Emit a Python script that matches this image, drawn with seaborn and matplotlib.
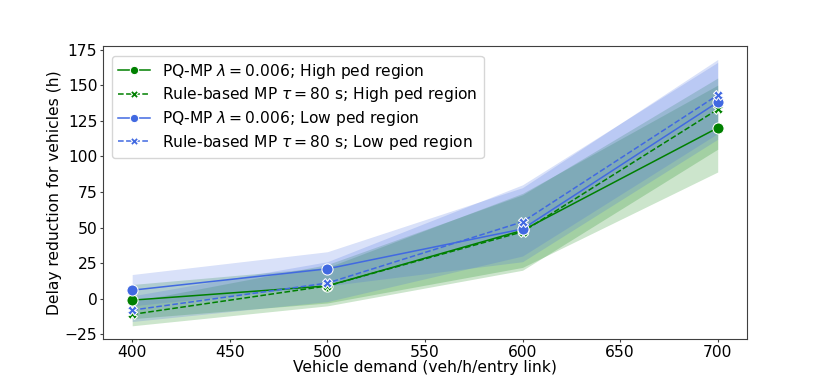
import matplotlib
matplotlib.use("Agg")
import matplotlib.pyplot as plt
import seaborn as sns
import pandas as pd

demand = [400, 500, 600, 700]

# mean delay reduction (h) and band bounds per series
pq_high = [-1, 9, 48, 120]
pq_high_lo = [-14, -3, 22, 89]
pq_high_hi = [10, 22, 74, 150]

rule_high = [-11, 9, 47, 133]
rule_high_lo = [-19, -5, 20, 105]
rule_high_hi = [-2, 24, 73, 155]

pq_low = [6, 21, 49, 138]
pq_low_lo = [-5, 9, 26, 112]
pq_low_hi = [17, 33, 78, 168]

rule_low = [-8, 11, 54, 143]
rule_low_lo = [-16, -2, 30, 116]
rule_low_hi = [2, 26, 80, 166]

labels = [
    r"PQ-MP $\lambda=0.006$; High ped region",
    r"Rule-based MP $\tau=80$ s; High ped region",
    r"PQ-MP $\lambda=0.006$; Low ped region",
    r"Rule-based MP $\tau=80$ s; Low ped region",
]

series = [
    (pq_high, pq_high_lo, pq_high_hi, "green", "-", "o", 8),
    (rule_high, rule_high_lo, rule_high_hi, "green", "--", "X", 7),
    (pq_low, pq_low_lo, pq_low_hi, "royalblue", "-", "o", 8),
    (rule_low, rule_low_lo, rule_low_hi, "royalblue", "--", "X", 7),
]

plt.rcParams["font.size"] = 11.2
plt.rcParams["axes.edgecolor"] = "0.25"
fig, ax = plt.subplots(figsize=(8.3, 3.88), dpi=100)
fig.subplots_adjust(left=0.124, right=0.9, top=0.881, bottom=0.126)

for (y, lo, hi, col, ls, mk, ms), lab in zip(series, labels):
    df = pd.DataFrame({"demand": demand, "delay": y})
    sns.lineplot(data=df, x="demand", y="delay", color=col, linestyle=ls,
                 marker=mk, markersize=ms, linewidth=1.1, label=lab, ax=ax)
    ax.fill_between(demand, lo, hi, color=col, alpha=0.2, linewidth=0)

ax.tick_params(length=2.5, pad=1.5, color="0.25")
ax.set_xlabel("Vehicle demand (veh/h/entry link)", labelpad=0)
ax.set_ylabel("Delay reduction for vehicles (h)", labelpad=2)
ax.set_yticks([-25, 0, 25, 50, 75, 100, 125, 150, 175])
ax.legend(loc="upper left", labelspacing=0.3, markerscale=0.75,
          borderaxespad=0.6)

plt.savefig("out.png")
